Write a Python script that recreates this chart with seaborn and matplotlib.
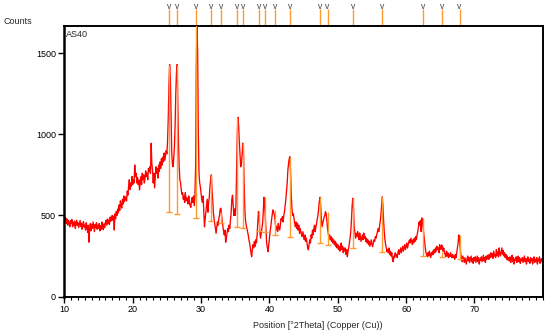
import numpy as np
import pandas as pd
import seaborn as sns
import matplotlib.pyplot as plt
from matplotlib.ticker import MultipleLocator
import matplotlib.transforms as mtransforms

# Скан: інтенсивність (counts) з кроком 0.1° від 10 до 80 °2Theta
start_2theta = 10.0
step_2theta = 0.1
counts = [
    500, 470, 485, 450, 478, 440, 470, 455, 430, 468,   # 10
    450, 475, 430, 458, 440, 465, 420, 450, 470, 438,   # 11
    455, 425, 448, 470, 432, 452, 415, 445, 462, 428,   # 12
    440, 410, 455, 430, 395, 440, 335, 420, 450, 405,   # 13
    445, 420, 460, 430, 400, 445, 425, 455, 415, 440,   # 14
    420, 450, 405, 438, 415, 460, 430, 412, 448, 425,   # 15
    455, 470, 440, 478, 450, 472, 445, 490, 465, 480,   # 16
    500, 470, 495, 410, 510, 480, 525, 500, 540, 515,   # 17
    565, 530, 590, 560, 545, 600, 570, 620, 585, 600,   # 18
    616, 590, 650, 625, 680, 720, 660, 700, 680, 740,   # 19
    690, 720, 700, 811, 740, 760, 700, 735, 690, 718,   # 20
    657, 700, 740, 690, 760, 720, 750, 700, 730, 775,   # 21
    740, 760, 720, 790, 770, 800, 760, 945, 820, 780,   # 22
    700, 760, 670, 740, 800, 760, 790, 730, 810, 770,   # 23
    830, 790, 850, 810, 860, 830, 885, 840, 870, 900,   # 24
    880, 960, 1100, 1300, 1430, 1350, 1150, 900, 820, 800,  # 25
    850, 920, 1050, 1250, 1380, 1430, 1200, 950, 800, 720,  # 26
    700, 660, 630, 640, 600, 620, 580, 640, 590, 610,   # 27
    600, 570, 620, 580, 560, 550, 590, 610, 580, 620,   # 28
    560, 620, 800, 1400, 1700, 1500, 1000, 760, 700, 675,   # 29
    640, 600, 580, 620, 530, 430, 480, 520, 560, 600,   # 30
    520, 580, 610, 680, 720, 750, 660, 600, 520, 480,   # 31
    450, 420, 390, 430, 460, 440, 480, 500, 540, 545,   # 32
    500, 460, 430, 400, 380, 410, 335, 360, 390, 420,   # 33
    400, 440, 420, 470, 520, 600, 625, 560, 500, 540,   # 34
    500, 560, 780, 1000, 1105, 1050, 950, 880, 800, 820,    # 35
    870, 945, 900, 700, 540, 470, 440, 420, 400, 380,   # 36
    350, 330, 300, 270, 246, 290, 320, 300, 340, 310,   # 37
    350, 330, 380, 460, 525, 480, 400, 360, 390, 420,   # 38
    450, 520, 612, 560, 480, 400, 330, 300, 277, 320,   # 39
    360, 400, 430, 470, 500, 534, 520, 510, 480, 440,   # 40
    410, 430, 400, 450, 420, 410, 440, 480, 470, 493,   # 41
    460, 500, 520, 560, 600, 650, 700, 780, 820, 850,   # 42
    862, 760, 620, 540, 500, 510, 480, 452, 430, 460,   # 43
    420, 452, 410, 440, 390, 420, 400, 380, 370, 400,   # 44
    370, 350, 380, 340, 360, 330, 300, 288, 320, 350,   # 45
    330, 380, 360, 410, 380, 420, 440, 400, 430, 450,   # 46
    480, 500, 540, 590, 612, 560, 480, 431, 450, 470,   # 47
    490, 500, 523, 510, 470, 420, 390, 370, 380, 350,   # 48
    370, 340, 360, 330, 350, 320, 340, 310, 330, 300,   # 49
    320, 290, 310, 280, 300, 330, 290, 310, 270, 300,   # 50
    280, 300, 260, 290, 246, 280, 300, 330, 360, 400,   # 51
    470, 560, 606, 540, 430, 392, 360, 390, 370, 400,   # 52
    380, 350, 392, 370, 340, 360, 380, 350, 392, 360,   # 53
    370, 340, 360, 330, 350, 320, 340, 310, 330, 350,   # 54
    320, 308, 330, 350, 340, 370, 360, 380, 400, 420,   # 55
    400, 430, 460, 500, 560, 615, 560, 470, 400, 350,   # 56
    320, 300, 277, 290, 270, 300, 260, 280, 250, 270,   # 57
    230, 215, 250, 240, 270, 250, 260, 240, 270, 288,   # 58
    260, 280, 300, 270, 290, 310, 280, 300, 320, 290,   # 59
    310, 330, 300, 320, 340, 350, 330, 360, 340, 320,   # 60
    350, 330, 360, 340, 370, 350, 380, 400, 430, 460,   # 61
    440, 470, 400, 485, 460, 420, 380, 340, 300, 270,   # 62
    260, 246, 270, 250, 280, 260, 240, 270, 257, 280,   # 63
    260, 290, 270, 300, 280, 310, 290, 300, 270, 320,   # 64
    300, 290, 318, 310, 280, 300, 270, 260, 246, 280,   # 65
    250, 270, 240, 260, 246, 270, 250, 240, 260, 240,   # 66
    250, 230, 260, 240, 270, 300, 330, 380, 360, 300,   # 67
    260, 240, 215, 250, 230, 210, 240, 220, 200, 230,   # 68
    250, 220, 240, 210, 230, 250, 215, 235, 205, 240,   # 69
    220, 245, 210, 230, 250, 215, 240, 200, 230, 225,   # 70
    245, 215, 235, 255, 220, 240, 210, 250, 230, 245,   # 71
    257, 230, 260, 240, 270, 245, 265, 235, 280, 250,   # 72
    260, 240, 290, 255, 275, 245, 300, 265, 250, 277,   # 73
    300, 260, 285, 250, 270, 240, 260, 230, 250, 225,   # 74
    240, 220, 245, 210, 235, 255, 215, 240, 200, 230,   # 75
    225, 245, 210, 235, 250, 215, 240, 205, 230, 220,   # 76
    240, 210, 230, 250, 215, 235, 200, 225, 245, 215,   # 77
    230, 205, 240, 220, 235, 200, 225, 245, 210, 230,   # 78
    215, 240, 200, 230, 220, 245, 205, 225, 235, 213,   # 79
    213,                                                # 80
]

# Список піків: положення, фон (низ штриха) і висота піку (верх штриха)
peak_pos = [25.33, 26.45, 29.31, 31.50, 32.88, 35.26, 36.09, 38.47, 39.34,
            40.85, 42.99, 47.47, 48.50, 52.23, 56.53, 62.45, 65.28, 67.81]
peak_bottom = [520, 511, 487, 464, 455, 431, 425, 406, 397,
               380, 366, 329, 318, 298, 273, 252, 246, 230]
peak_top = [1430, 1430, 1700, 750, 520, 1105, 945, 525, 612,
            534, 862, 612, 523, 606, 615, 485, 277, 380]

x_ticks = [10, 20, 30, 40, 50, 60, 70]
y_ticks = [0, 500, 1000, 1500]

two_theta = start_2theta + step_2theta * np.arange(len(counts))
df = pd.DataFrame({'pos': two_theta, 'counts': counts})

sns.set_theme(style='ticks')
plt.rcParams['font.family'] = ['Liberation Sans', 'DejaVu Sans']

fig = plt.figure(figsize=(5.5, 3.34), dpi=100)
ax = fig.add_axes([0.117, 0.112, 0.870, 0.809])

sns.lineplot(data=df, x='pos', y='counts', ax=ax, color='#ff0000',
             linewidth=0.95, sort=False)

# штрихи піків у полі графіка
ax.vlines(peak_pos, peak_bottom, peak_top, color='#ff9a2e', linewidth=1.0, zorder=3)
ax.plot(peak_pos, peak_bottom, linestyle='none', marker='_', markersize=4,
        markeredgewidth=1.0, color='#ff9a2e', zorder=3)

# позначки піків над графіком
trans = mtransforms.blended_transform_factory(ax.transData, ax.transAxes)
ax.vlines(peak_pos, 1.0, 1.063, transform=trans, color='#ff9a2e',
          linewidth=1.0, clip_on=False)
for p in peak_pos:
    ax.text(p, 1.058, 'v', transform=trans, fontsize=6.2, color='#444444',
            ha='center', va='bottom', clip_on=False)

ax.set_xlim(10, 80)
ax.set_ylim(0, 1665)
ax.set_xticks(x_ticks)
ax.set_yticks(y_ticks)
ax.xaxis.set_minor_locator(MultipleLocator(1))
ax.tick_params(axis='both', which='major', labelsize=6.5, length=4, width=1.0,
               colors='black', pad=2)
ax.tick_params(axis='x', which='minor', length=2.5, width=0.8, colors='black')
for side in ['left', 'right', 'top', 'bottom']:
    ax.spines[side].set_visible(True)
    ax.spines[side].set_color('black')
    ax.spines[side].set_linewidth(1.4)
ax.spines['left'].set_linewidth(1.8)

ax.set_xlabel('Position [°2Theta] (Copper (Cu))', fontsize=6.5, labelpad=6)
ax.xaxis.set_label_coords(0.53, -0.09)
ax.set_ylabel('')
fig.text(4 / 550, 1 - 21 / 334, 'Counts', fontsize=6.5, va='center', ha='left')
ax.text(0.004, 0.985, 'AS40', transform=ax.transAxes, fontsize=6.5,
        va='top', ha='left')

fig.savefig('out.png', dpi=100)
